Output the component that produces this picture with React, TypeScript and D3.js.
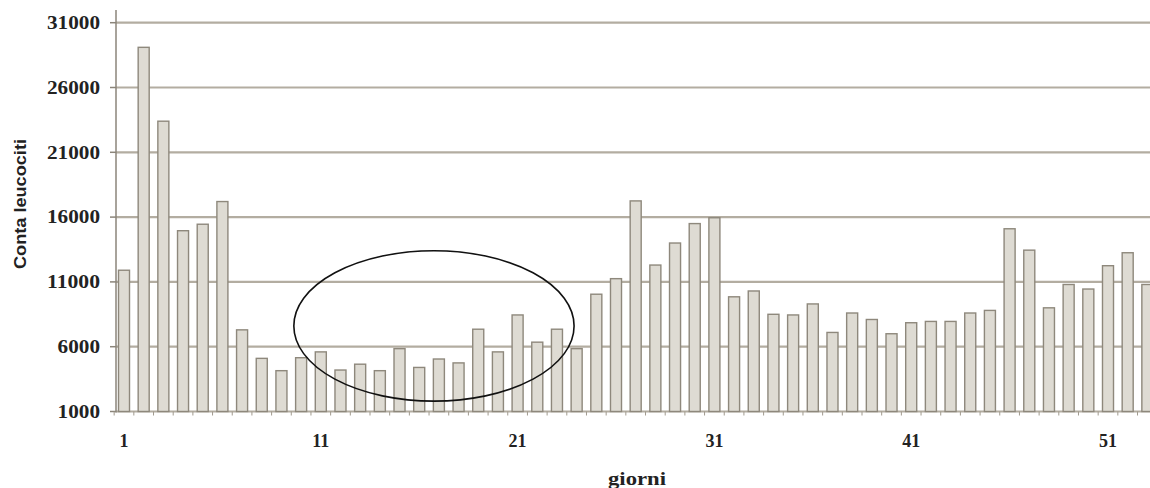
import React from "react";
import * as d3 from "d3";

const days: number[] = [
  1, 2, 3, 4, 5, 6, 7, 8, 9, 10, 11, 12, 13, 14, 15, 16, 17, 18, 19, 20, 21, 22, 23, 24, 25, 26, 27,
  28, 29, 30, 31, 32, 33, 34, 35, 36, 37, 38, 39, 40, 41, 42, 43, 44, 45, 46, 47, 48, 49, 50, 51, 52, 53,
];
const leucociti: number[] = [
  11900, 29100, 23400, 14950, 15450, 17200, 7300, 5100, 4150, 5150, 5600, 4200, 4650, 4150, 5850, 4400,
  5050, 4750, 7350, 5600, 8450, 6350, 7350, 5850, 10050, 11250, 17250, 12300, 14000, 15500, 15950, 9850,
  10300, 8500, 8450, 9300, 7100, 8600, 8100, 7000, 7850, 7950, 7950, 8600, 8800, 15100, 13450, 9000,
  10800, 10450, 12250, 13250, 10800,
];
const xTickLabels: number[] = [1, 11, 21, 31, 41, 51];
const yTicks: number[] = [1000, 6000, 11000, 16000, 21000, 26000, 31000];
const yTitle = "Conta leucociti";
const xTitle = "giorni";
// annotation ellipse in data units: centre day, centre value, half-width in days, half-height in value
const ellipseDay = 16.75;
const ellipseValue = 7600;
const ellipseHalfDays = 7.12;
const ellipseHalfValue = 5800;

const W = 1150;
const H = 488;

export default function App() {
  const step = 19.68;
  const x = d3
    .scaleBand<number>()
    .domain(days)
    .range([124 - step / 2, 124 - step / 2 + step * days.length])
    .paddingInner(0.44)
    .paddingOuter(0.22);
  const y = d3.scaleLinear().domain([1000, 31000]).range([411.5, 22.7]);
  const axisX = 116;
  const plotRight = W;
  const cx = (d: number) => (x(d) as number) + x.bandwidth() / 2;
  const dayToPx = (d: number) => cx(1) + (d - 1) * x.step();

  const ex = dayToPx(ellipseDay);
  const ey = y(ellipseValue);
  const erx = ellipseHalfDays * x.step();
  const ery = y(1000) - y(1000 + ellipseHalfValue);

  const serif = "'Liberation Serif', 'Times New Roman', serif";

  return (
    <svg
      width={W}
      height={H}
      style={{ position: "absolute", left: 0, top: 0, display: "block", background: "#fff" }}
    >
      {/* grid lines */}
      {yTicks.map((t) => (
        <line
          key={"g" + t}
          x1={axisX}
          x2={plotRight}
          y1={y(t)}
          y2={y(t)}
          stroke="#b3ada1"
          strokeWidth={2.2}
        />
      ))}
      {/* y ticks */}
      {yTicks.map((t) => (
        <line key={"yt" + t} x1={axisX - 6} x2={axisX} y1={y(t)} y2={y(t)} stroke="#8b857a" strokeWidth={1.5} />
      ))}
      {/* x small ticks */}
      {days.map((d) => (
        <line
          key={"xt" + d}
          x1={(x(d) as number) - (x.step() - x.bandwidth()) / 2}
          x2={(x(d) as number) - (x.step() - x.bandwidth()) / 2}
          y1={y(1000)}
          y2={y(1000) + 4}
          stroke="#a09a8e"
          strokeWidth={1}
        />
      ))}
      {/* bars */}
      {days.map((d, i) => (
        <rect
          key={"b" + d}
          x={x(d)}
          y={y(leucociti[i])}
          width={x.bandwidth()}
          height={y(1000) - y(leucociti[i])}
          fill="#dedbd3"
          stroke="#8e887c"
          strokeWidth={1.4}
        />
      ))}
      {/* y axis line */}
      <line x1={axisX} x2={axisX} y1={10} y2={y(1000) + 1} stroke="#8b857a" strokeWidth={1.5} />
      {/* y tick labels */}
      {yTicks.map((t) => (
        <text
          key={"yl" + t}
          x={100}
          y={y(t)}
          dy="0.35em"
          textAnchor="end"
          fontFamily={serif}
          fontWeight="bold"
          fontSize={18}
          textLength={String(t).length * 10.6}
          lengthAdjust="spacingAndGlyphs"
          fill="#222"
        >
          {t}
        </text>
      ))}
      {/* x tick labels */}
      {xTickLabels.map((d) => (
        <text
          key={"xl" + d}
          x={cx(d)}
          y={447}
          textAnchor="middle"
          fontFamily={serif}
          fontWeight="bold"
          fontSize={18}
          fill="#222"
        >
          {d}
        </text>
      ))}
      {/* axis titles */}
      <text
        x={(axisX + plotRight) / 2 + 4}
        y={485}
        textAnchor="middle"
        fontFamily={serif}
        fontWeight="bold"
        fontSize={19}
        textLength={58}
        lengthAdjust="spacingAndGlyphs"
        fill="#222"
      >
        {xTitle}
      </text>
      <text
        transform={`translate(26,204) rotate(-90)`}
        textAnchor="middle"
        fontFamily="'Liberation Sans', Arial, sans-serif"
        fontWeight="bold"
        fontSize={16}
        textLength={130}
        lengthAdjust="spacingAndGlyphs"
        fill="#222"
      >
        {yTitle}
      </text>
      {/* annotation ellipse */}
      <ellipse cx={ex} cy={ey} rx={erx} ry={ery} fill="none" stroke="#111" strokeWidth={1.6} />
    </svg>
  );
}
